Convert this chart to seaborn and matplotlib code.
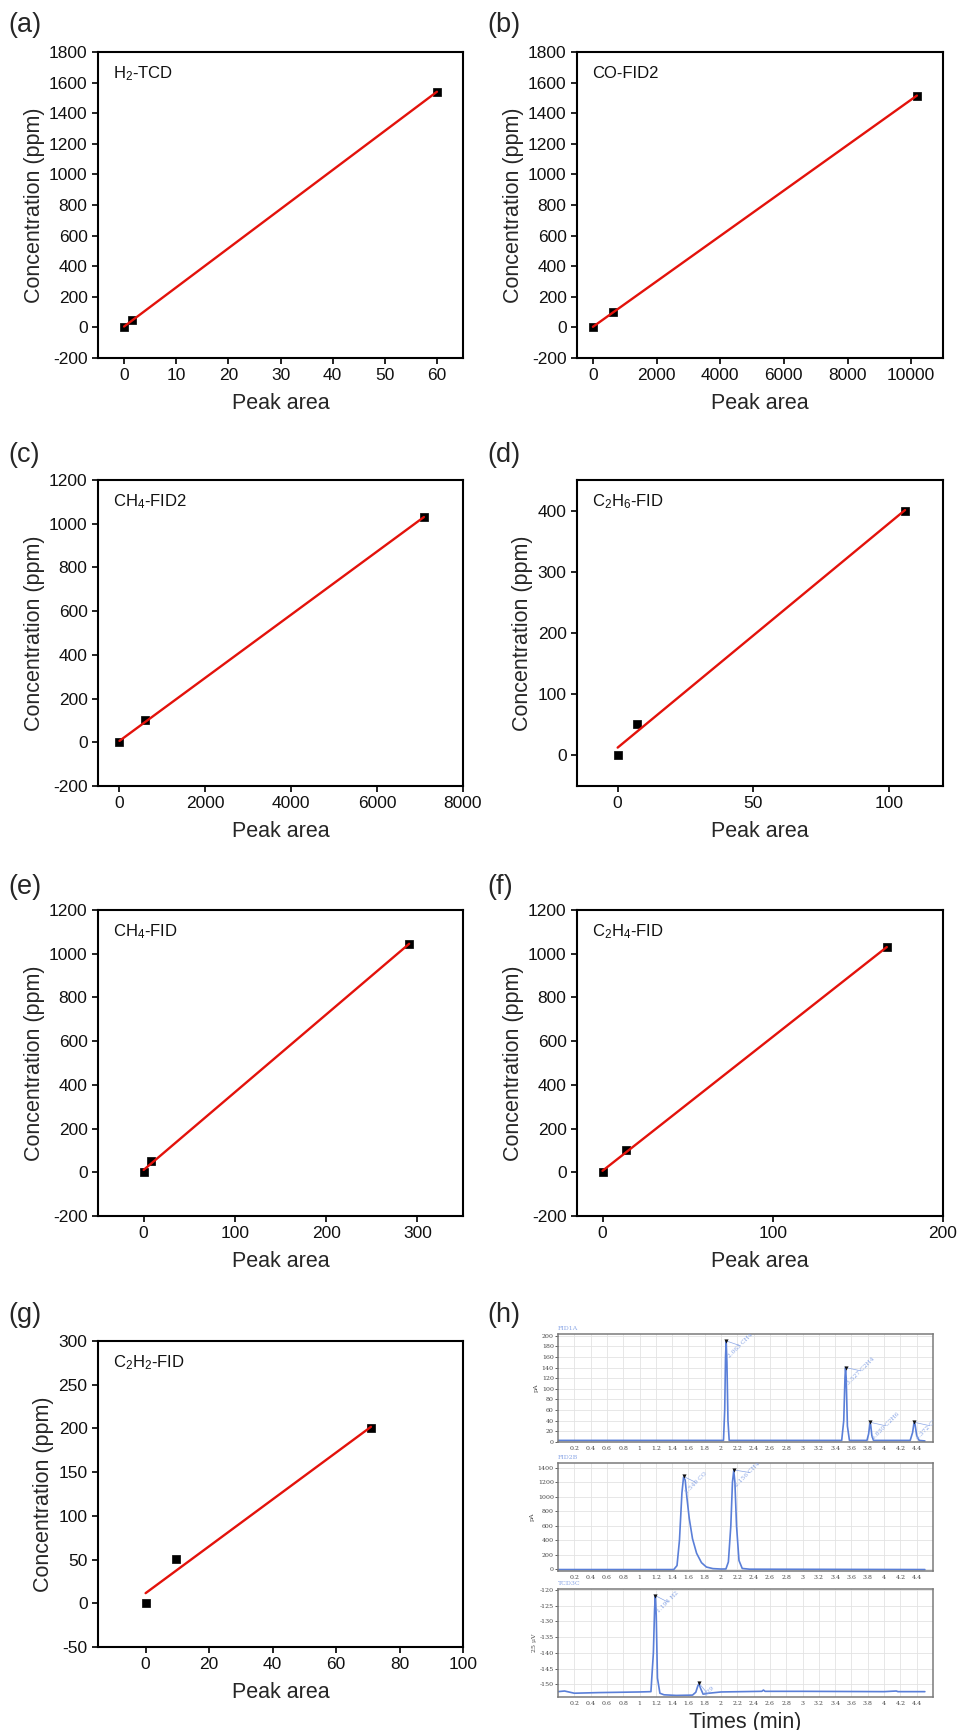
import numpy as np
import pandas as pd
import matplotlib
matplotlib.use("Agg")
import matplotlib.pyplot as plt
import seaborn as sns

# ---------------- calibration data (peak area vs concentration) ----------------
h2_area = [0, 1.5, 60]
h2_conc = [0, 50, 1540]
co_area = [0, 620, 10180]
co_conc = [0, 100, 1515]
ch4_fid2_area = [0, 600, 7090]
ch4_fid2_conc = [0, 100, 1030]
c2h6_area = [0, 7, 106]
c2h6_conc = [0, 52, 400]
ch4_fid_area = [0, 8, 291]
ch4_fid_conc = [0, 50, 1045]
c2h4_area = [0, 14, 167]
c2h4_conc = [0, 100, 1030]
c2h2_area = [0, 9.7, 71]
c2h2_conc = [0, 51, 200]

panel_letters = ["(a)", "(b)", "(c)", "(d)", "(e)", "(f)", "(g)", "(h)"]
gas_labels = [r"H$_2$-TCD", "CO-FID2", r"CH$_4$-FID2", r"C$_2$H$_6$-FID",
              r"CH$_4$-FID", r"C$_2$H$_4$-FID", r"C$_2$H$_2$-FID"]
x_ticks = [[0, 10, 20, 30, 40, 50, 60],
           [0, 2000, 4000, 6000, 8000, 10000],
           [0, 2000, 4000, 6000, 8000],
           [0, 50, 100],
           [0, 100, 200, 300],
           [0, 100, 200],
           [0, 20, 40, 60, 80, 100]]
y_ticks = [list(range(-200, 1801, 200)),
           list(range(-200, 1801, 200)),
           list(range(-200, 1201, 200)),
           [0, 100, 200, 300, 400],
           list(range(-200, 1201, 200)),
           list(range(-200, 1201, 200)),
           [-50, 0, 50, 100, 150, 200, 250, 300]]
x_lims = [(-5, 65), (-500, 11000), (-500, 8000), (-15, 120), (-50, 350), (-15, 200), (-15, 100)]
y_lims = [(-200, 1800), (-200, 1800), (-200, 1200), (-50, 450), (-200, 1200), (-200, 1200), (-50, 300)]

# ---------------- chromatogram traces ----------------
fid1_t = [0.0, 2.03, 2.045, 2.055, 2.063, 2.072, 2.085, 2.10, 3.48, 3.505, 3.52, 3.527,
          3.535, 3.55, 3.575, 3.79, 3.81, 3.825, 3.83, 3.835, 3.85, 3.87, 4.32, 4.35,
          4.365, 4.372, 4.38, 4.40, 4.43, 4.5]
fid1_s = [3, 3, 60, 160, 190, 150, 40, 3, 3, 40, 120, 140, 120, 30, 3, 3, 15, 33, 35,
          33, 12, 3, 3, 18, 34, 36, 33, 12, 3, 2]
fid1_peak_t = [2.063, 3.527, 3.830, 4.372]
fid1_peak_s = [190, 140, 37, 37]
fid1_peak_lbl = ["2.063 CH4", "3.527 C2H4", "3.830 C2H6", "4.372 C2H2"]

fid2_t = [0.0, 1.42, 1.46, 1.49, 1.52, 1.54, 1.56, 1.58, 1.61, 1.65, 1.70, 1.76, 1.82,
          1.90, 2.0, 2.06, 2.09, 2.12, 2.14, 2.156, 2.17, 2.19, 2.22, 2.26, 2.35, 4.5]
fid2_s = [-5, -5, 50, 400, 1050, 1270, 1230, 1000, 700, 420, 220, 90, 30, 8, 2, 3,
          100, 600, 1200, 1360, 1200, 600, 120, 10, 0, -5]
fid2_peak_t = [1.540, 2.156]
fid2_peak_s = [1280, 1370]
fid2_peak_lbl = ["1.540 CO", "2.156 CH4-2"]

tcd_t = [0.0, 0.08, 0.2, 0.5, 1.0, 1.14, 1.17, 1.185, 1.194, 1.205, 1.22, 1.25, 1.3,
         1.45, 1.65, 1.69, 1.715, 1.729, 1.745, 1.78, 1.85, 2.0, 2.5, 2.52, 2.54, 3.0,
         4.0, 4.15, 4.17, 4.5]
tcd_s = [-152.3, -152.1, -152.8, -152.6, -152.4, -152.3, -140, -126, -121.8, -128, -148,
         -152.8, -153.3, -153.5, -153.4, -152.5, -150.5, -149.8, -151, -153.1, -152.8,
         -152.4, -152.2, -151.8, -152.2, -152.2, -152.3, -152.1, -152.3, -152.3]
tcd_peak_t = [1.194, 1.729]
tcd_peak_s = [-121.8, -149.6]
tcd_peak_lbl = ["1.194 H2", "1.729"]

chrom_titles = ["FID1A", "FID2B", "TCD3C"]
chrom_ylabels = ["pA", "pA", "25 μV"]
chrom_xticks = [0.2, 0.4, 0.6, 0.8, 1, 1.2, 1.4, 1.6, 1.8, 2, 2.2, 2.4, 2.6, 2.8, 3,
                3.2, 3.4, 3.6, 3.8, 4, 4.2, 4.4]
chrom_yticks = [list(range(0, 201, 20)), list(range(0, 1401, 200)),
                [-150, -145, -140, -135, -130, -125, -120]]
chrom_ylims = [(0, 203), (-25, 1465), (-154, -119.7)]

# ---------------- style ----------------
sns.set_theme(style="ticks")
plt.rcParams["font.family"] = ["Liberation Sans", "DejaVu Sans"]
plt.rcParams["mathtext.default"] = "regular"
plt.rcParams["axes.unicode_minus"] = False

W, H = 960, 1730
fig = plt.figure(figsize=(W / 100, H / 100), dpi=100)


def rect(l, t, r, b):
    return [l / W, 1 - b / H, (r - l) / W, (b - t) / H]


col_lr = [(98, 463), (577, 943)]
row_tb = [(52, 358), (480, 786), (910, 1216), (1341, 1647)]
label_y = [12, 442, 874, 1302]
label_x = [8, 487]

cal_sets = [(h2_area, h2_conc), (co_area, co_conc), (ch4_fid2_area, ch4_fid2_conc),
            (c2h6_area, c2h6_conc), (ch4_fid_area, ch4_fid_conc),
            (c2h4_area, c2h4_conc), (c2h2_area, c2h2_conc)]

for i, (xa, ya) in enumerate(cal_sets):
    r, c = divmod(i, 2)
    l, rr = col_lr[c]
    t, b = row_tb[r]
    ax = fig.add_axes(rect(l, t, rr, b))
    df = pd.DataFrame({"area": xa, "conc": ya})
    sns.scatterplot(data=df, x="area", y="conc", ax=ax, marker="s", s=32,
                    color="black", edgecolor="black", linewidth=0.5, zorder=2)
    sns.regplot(data=df, x="area", y="conc", ax=ax, scatter=False, ci=None,
                color="#e3120b", line_kws=dict(lw=1.7, zorder=3))
    ax.set_xlim(*x_lims[i])
    ax.set_ylim(*y_lims[i])
    ax.set_xticks(x_ticks[i])
    ax.set_yticks(y_ticks[i])
    ax.tick_params(axis="both", direction="out", length=4.5, width=1.3,
                   labelsize=12.5, colors="#111111", pad=3)
    for sp in ax.spines.values():
        sp.set_linewidth(1.5)
        sp.set_color("black")
    ax.set_xlabel("Peak area", fontsize=15.5, labelpad=7)
    ax.set_ylabel("Concentration (ppm)", fontsize=15.5, labelpad=3)
    ax.text(0.04, 0.93, gas_labels[i], transform=ax.transAxes, fontsize=12,
            va="center", ha="left", color="#111111")
    fig.text(label_x[c] / W, 1 - label_y[r] / H, panel_letters[i], fontsize=19.5,
             va="top", ha="left")

# panel (h) label
fig.text(label_x[1] / W, 1 - label_y[3] / H, panel_letters[7], fontsize=19.5,
         va="top", ha="left")

# ---------------- chromatograms ----------------
chrom_rects = [(558, 1334, 933, 1442), (558, 1463, 933, 1571), (558, 1589, 933, 1697)]
traces = [(fid1_t, fid1_s, fid1_peak_t, fid1_peak_s, fid1_peak_lbl),
          (fid2_t, fid2_s, fid2_peak_t, fid2_peak_s, fid2_peak_lbl),
          (tcd_t, tcd_s, tcd_peak_t, tcd_peak_s, tcd_peak_lbl)]
blue = "#5a7fd8"
lblue = "#8aa6e6"
serif = ["DejaVu Serif"]

for j, (tt, ss, pt, ps, pl) in enumerate(traces):
    ax = fig.add_axes(rect(*chrom_rects[j]))
    dfc = pd.DataFrame({"t": tt, "s": ss})
    sns.lineplot(data=dfc, x="t", y="s", ax=ax, sort=False, estimator=None,
                 color=blue, lw=1.2)
    ax.scatter(pt, ps, marker="v", s=9, color="#111111", zorder=4, linewidths=0)
    for x0, y0, lab in zip(pt, ps, pl):
        ax.annotate(lab, xy=(x0, y0), xytext=(3, -13), textcoords="offset points",
                    rotation=45, fontsize=4.3, color=lblue, ha="left", va="bottom",
                    rotation_mode="anchor", family=serif, annotation_clip=False,
                    clip_on=True,
                    arrowprops=dict(arrowstyle="-", color=lblue, lw=0.5,
                                    shrinkA=0, shrinkB=0))
    ax.set_xlim(0, 4.6)
    ax.set_ylim(*chrom_ylims[j])
    ax.set_xticks(chrom_xticks)
    ax.set_xticklabels([f"{v:g}" for v in chrom_xticks])
    ax.set_yticks(chrom_yticks[j])
    ax.grid(True, color="#e3e3e3", lw=0.6)
    ax.set_axisbelow(True)
    ax.tick_params(axis="x", length=0, labelsize=4.5, pad=3, colors="#444444")
    ax.tick_params(axis="y", length=2, width=0.6, labelsize=4.5, pad=1, colors="#444444")
    for lab in ax.get_xticklabels() + ax.get_yticklabels():
        lab.set_family(serif)
    for sp in ax.spines.values():
        sp.set_linewidth(1.1)
        sp.set_color("#7a7a7a")
    ax.set_ylabel(chrom_ylabels[j], fontsize=4.5, family=serif, labelpad=2,
                  color="#444444")
    ax.set_xlabel("")
    ax.text(0.0, 1.03, chrom_titles[j], transform=ax.transAxes, fontsize=4.5,
            color=lblue, family=serif, va="bottom", ha="left")
    if j == 2:
        ax.set_xlabel("Times (min)", fontsize=15.5, labelpad=4)

fig.savefig("out.png", dpi=100)
